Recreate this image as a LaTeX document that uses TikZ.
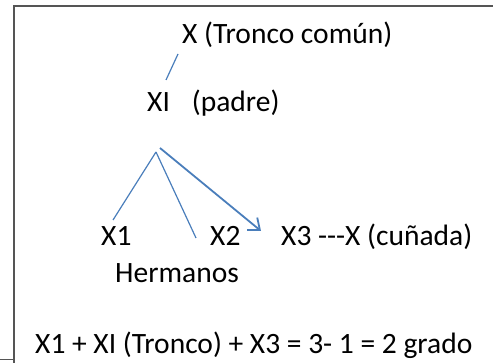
\documentclass[tikz,border=0pt]{standalone}
\usepackage{fontspec}
\setmainfont{Carlito}
\usetikzlibrary{arrows.meta,positioning,calc}
\definecolor{lineblue}{HTML}{4A7EBB}
\definecolor{framegray}{HTML}{555555}

\begin{document}
\begin{tikzpicture}[x=1pt,y=-1pt,>={Straight Barb[length=10pt,width=16pt]},font=\fontsize{29.5}{34}\selectfont,
  lbl/.style={anchor=base west,inner sep=0},
  rama/.style={lineblue,line width=1.2pt}]
\useasboundingbox (0,0) rectangle (493,363);
\draw[framegray,line width=1.6pt] (493,6) -- (14,6) -- (14,363);
\draw[framegray,line width=1pt] (0,360) -- (14,360);
\node[lbl] (tronco) at (182,44) {X (Tronco común)};
\node[lbl] (padre) at (147,112) {XI\hspace{22pt}(padre)};
\node[lbl] (xa) at (101,246) {X1};
\node[lbl] (xb) at (210,246) {X2};
\node[lbl] (xc) at (281,246) {X3 -{}-{}-X (cuñada)};
\node[lbl] (herm) at (115,283) {Hermanos};
\node[lbl] (suma) at (35,354) {X1 + XI (Tronco) + X3 = 3- 1 = 2 grado};
\coordinate (arriba) at (178,54);
\coordinate (abajo) at (166,80);
\coordinate (apex) at (156,152);
\coordinate (apexb) at (160,148);
\coordinate (finb) at (196,238);
\coordinate (finc) at (261,231);
\draw[rama] (arriba) -- (abajo);
\draw[rama] (apex) -- ([shift={(12,-26)}]xa.base west);
\draw[rama] (apex) -- (finb);
\draw[rama,->,line width=1.8pt] (apexb) -- (finc);
\end{tikzpicture}
\end{document}
